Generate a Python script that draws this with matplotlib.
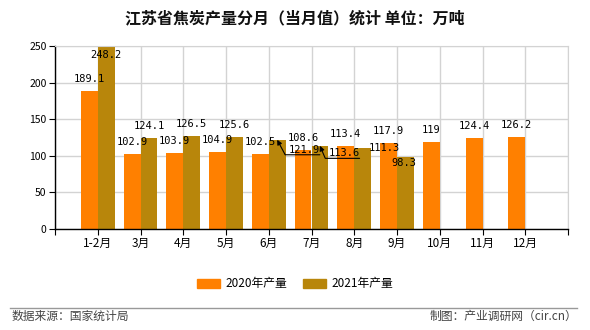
import matplotlib
matplotlib.use('Agg')
import matplotlib.pyplot as plt
import numpy as np
from matplotlib.lines import Line2D
from matplotlib.patches import Patch

plt.rcParams['font.family'] = ['Noto Sans CJK SC', 'DejaVu Sans']

months = ['1-2月', '3月', '4月', '5月', '6月', '7月', '8月', '9月', '10月', '11月', '12月']
prod_2020 = [189.1, 102.9, 103.9, 104.9, 102.5, 108.6, 113.4, 117.9, 119, 124.4, 126.2]
prod_2021 = [248.2, 124.1, 126.5, 125.6, 121.9, 113.6, 111.3, 98.3, np.nan, np.nan, np.nan]
yticks = [0, 50, 100, 150, 200, 250]

C2020 = '#FF8000'
C2021 = '#B8860B'
GRID = '#D3D3D3'

# label shifts (pixels, label centre relative to bar top) where labels would collide
shift_2021 = {0: (0, -8), 4: (27, -10), 5: (24, -7.5), 6: (21.5, 0), 7: (-1.5, -6)}
# leader line angle for labels moved away from their bar
arrow_2021 = {4: -62, 5: -67}

fig = plt.figure(figsize=(5.9, 3.3), dpi=100)
ax = fig.add_axes([55/590, 1 - 229/330, 513/590, 183/330])

x = np.arange(len(months))
w = 17/43
ax.bar(x - w/2, prod_2020, w, color=C2020, zorder=2)
ax.bar(x + w/2, prod_2021, w, color=C2021, zorder=2)

ax.set_xlim(-1, 11)
ax.set_ylim(0, 250)
ax.set_yticks(yticks)
ax.set_xticks(np.arange(-1, 12))
ax.set_xticklabels([''] + months + [''], fontsize=8.5)
ax.tick_params(axis='y', labelsize=7.5, length=4, pad=2)
ax.tick_params(axis='x', length=4, pad=2)
ax.grid(True, color=GRID, lw=1, zorder=0)
ax.set_axisbelow(True)
for s in ['top', 'right']:
    ax.spines[s].set_color(GRID)
for s in ['left', 'bottom']:
    ax.spines[s].set_color('black')
    ax.spines[s].set_linewidth(1)

lab_font = dict(family='DejaVu Sans Mono', fontsize=7.5)


def fmt(v):
    return ('%g' % v)


for i, v in enumerate(prod_2020):
    ax.annotate(fmt(v), (x[i] - w/2, v), xytext=(0, 12), textcoords='offset pixels',
                ha='center', va='center', zorder=3, **lab_font)

for i, v in enumerate(prod_2021):
    if np.isnan(v):
        continue
    dx, dy = shift_2021.get(i, (0, 12))
    props = None
    if i in arrow_2021:
        props = dict(arrowstyle='-|>', color='black', lw=0.8, mutation_scale=7,
                     shrinkA=0, shrinkB=0, relpos=(1, 0), patchA=None,
                     connectionstyle='angle,angleA=0,angleB=%d,rad=0' % arrow_2021[i])
    ax.annotate(fmt(v), (x[i] + w/2, v), xytext=(dx, dy), textcoords='offset pixels',
                ha='center', va='center', zorder=3, arrowprops=props, **lab_font)

fig.text(0.5, 1 - 18/330, '江苏省焦炭产量分月（当月值）统计 单位：万吨',
         ha='center', va='center', fontsize=11.5, fontweight='bold', color='#111111')

handles = [Patch(color=C2020, label='2020年产量'), Patch(color=C2021, label='2021年产量')]
fig.legend(handles=handles, loc='center', bbox_to_anchor=(295/590, 1 - 284/330), ncol=2,
           frameon=False, fontsize=8.5, handlelength=1.9, handleheight=0.85,
           handletextpad=0.45, columnspacing=1.4)

fig.add_artist(Line2D([10/590, 577/590], [1 - 308/330] * 2, color='#999999', lw=1))
fig.text(12/590, 1 - 316/330, '数据来源：国家统计局', ha='left', va='center',
         fontsize=8.5, color='#444444')
fig.text(577/590, 1 - 316/330, '制图：产业调研网（cir.cn）', ha='right', va='center',
         fontsize=8.5, color='#444444')

fig.savefig('out.png', dpi=100)
